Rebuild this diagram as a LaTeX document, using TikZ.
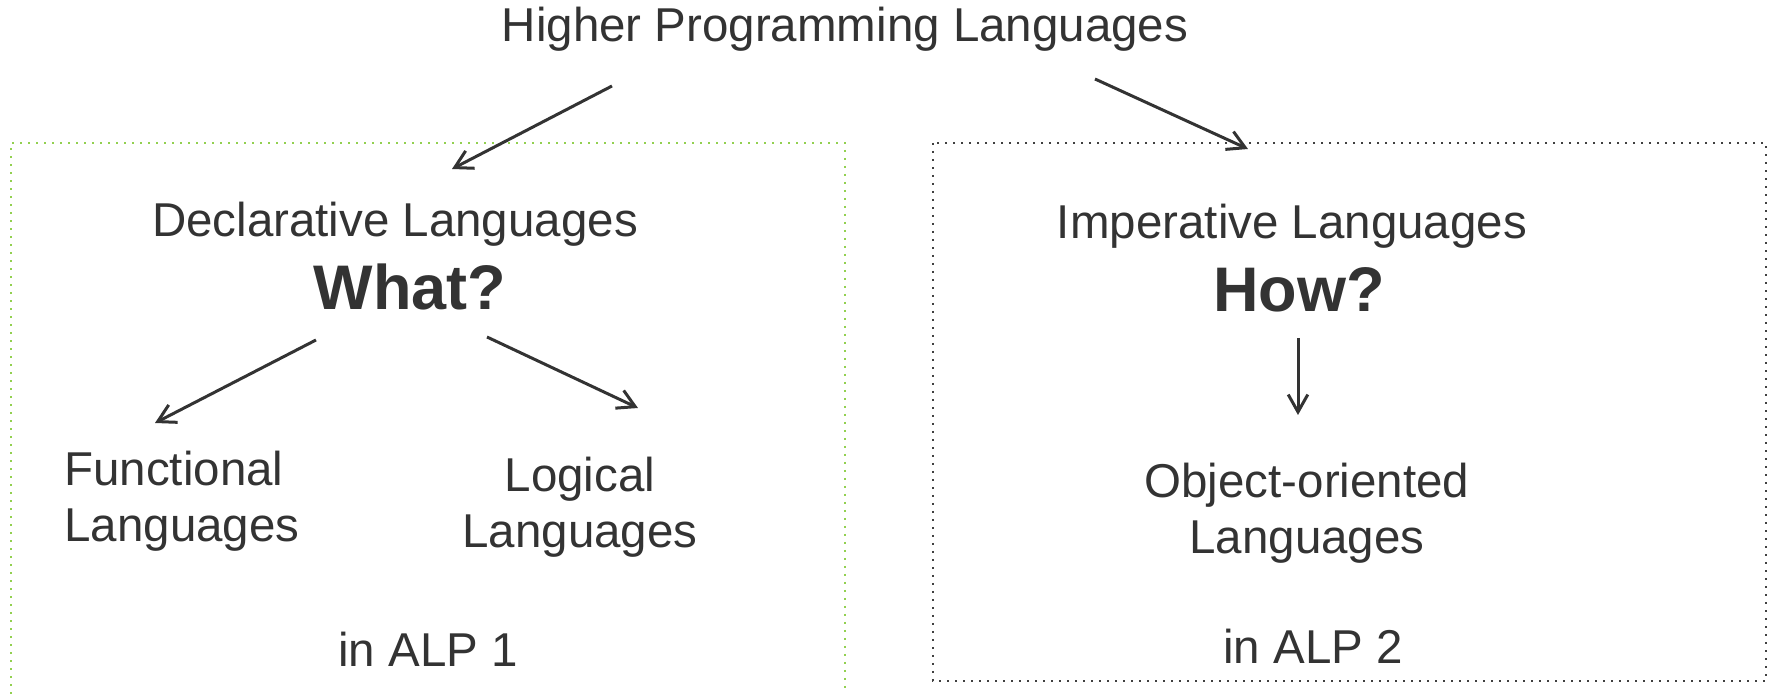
\documentclass[tikz,border=0pt]{standalone}
\usepackage{fontspec}
\setmainfont{Liberation Sans}
\usetikzlibrary{arrows.meta,calc}
\definecolor{inktext}{HTML}{333333}
\definecolor{alpgreen}{HTML}{92D050}
\definecolor{alpgrey}{HTML}{404040}
\tikzset{
  lang/.style={inner sep=0pt, anchor=base, text=inktext, align=center, font=\fontsize{23.75}{28}\selectfont},
  question/.style={lang, font=\fontsize{31.5}{36}\selectfont\bfseries},
  arrow/.style={-{Straight Barb[length=8.7pt,width=9.8pt]}, line width=1.5pt, draw=inktext},
  alpbox/.style={line width=1pt, dash pattern=on 1pt off 3pt}
}

\begin{document}
\begin{tikzpicture}[x=0.5pt,y=-0.5pt]
  \useasboundingbox (0,0) rectangle (1769,694);
  % the two course boxes
  \draw[alpbox, alpgreen] (11,694) -- (11,143) -- (845,143) -- (845,694);
  \draw[alpbox, alpgrey] (933,143) rectangle (1766,681);

  % multi-line nodes sit on the baseline of their last line
  \node[lang] (top) at (845,42) {Higher Programming Languages};
  \node[lang] (decl) at (395,237) {Declarative Languages};
  \node[question] (what) at (410,310) {What?};
  \node[lang, anchor=base west, align=left] (func) at (64,542) {Functional\\Languages};
  \node[lang] (logic) at (580,548) {Logical\\Languages};
  \node[lang] (alp1) at (428,667) {in ALP 1};
  \node[lang] (imp) at (1292,239) {Imperative Languages};
  \node[question] (how) at (1299,312) {How?};
  \node[lang] (oo) at (1307,554) {Object-oriented\\Languages};
  \node[lang] (alp2) at (1313,664) {in ALP 2};

  \draw[arrow] ($(top.base)+(-233,44)$) -- ($(decl.base)+(57,-68)$);
  \draw[arrow] ($(top.base)+(250,37)$) -- ($(imp.base)+(-44,-90)$);
  \draw[arrow] ($(what.base)+(-94,30)$) -- ($(func.base west)+(91,-119)$);
  \draw[arrow] ($(what.base)+(77,27)$) -- ($(logic.base)+(58,-140)$);
  \draw[arrow] ($(how.base)+(-1,26)$) -- ($(oo.base)+(-9,-139)$);
\end{tikzpicture}
\end{document}
